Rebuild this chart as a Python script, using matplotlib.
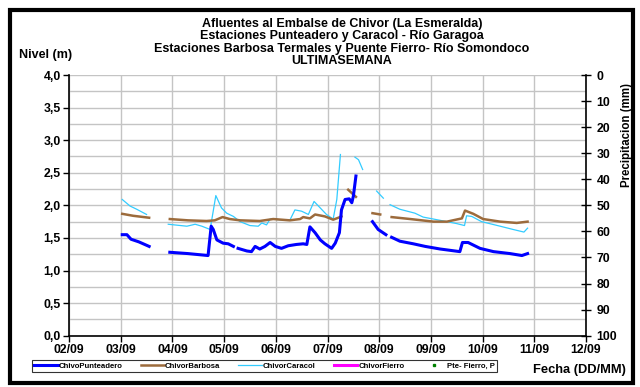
import numpy as np
import matplotlib
matplotlib.use("Agg")
import matplotlib.pyplot as plt
from matplotlib.patches import Rectangle

plt.rcParams['font.family'] = ['Liberation Sans', 'DejaVu Sans']
plt.rcParams['font.weight'] = 'bold'

nan = np.nan

# day of September (fractional), NaN = gap in the record
punteadero_t = [3.03, 3.12, 3.20, 3.35, 3.55, nan, 3.95, 4.30, 4.69, 4.75, 4.79, 4.86, 4.98, 5.08, 5.18, nan,
                5.27, 5.44, 5.53, 5.60, 5.69, 5.79, 5.89, 5.99, 6.11, 6.24, 6.40, 6.53, 6.60, 6.66, 6.76,
                6.86, 6.95, 7.08, 7.15, 7.23, 7.27, 7.34, 7.42, 7.47, 7.50, 7.55, nan, 7.87, 7.98, 8.13, nan,
                8.24, 8.40, 8.66, 8.89, 9.18, 9.56, 9.61, 9.72, 9.95, 10.21, 10.53, 10.76, 10.87]
punteadero = [1.55, 1.55, 1.48, 1.44, 1.37, nan, 1.28, 1.26, 1.23, 1.68, 1.63, 1.47, 1.42, 1.41, 1.37, nan,
              1.34, 1.30, 1.29, 1.37, 1.33, 1.37, 1.43, 1.37, 1.34, 1.38, 1.40, 1.41, 1.40, 1.67, 1.58,
              1.47, 1.41, 1.34, 1.42, 1.58, 1.93, 2.09, 2.10, 2.04, 2.14, 2.45, nan, 1.75, 1.63, 1.55, nan,
              1.51, 1.45, 1.41, 1.37, 1.33, 1.29, 1.43, 1.43, 1.34, 1.29, 1.26, 1.23, 1.26]

barbosa_t = [3.03, 3.24, 3.55, nan, 3.95, 4.30, 4.66, 4.82, 4.97, 5.11, 5.31, 5.69, 5.95, 6.27, 6.47, 6.53,
             6.66, 6.76, 6.95, 7.11, 7.21, 7.27, nan, 7.40, 7.55, nan, 7.87, 8.02, nan, 8.24, 8.60, 9.05,
             9.31, 9.60, 9.66, 9.82, 10.01, 10.34, 10.66, 10.87]
barbosa = [1.87, 1.84, 1.81, nan, 1.79, 1.77, 1.76, 1.77, 1.82, 1.79, 1.77, 1.76, 1.79, 1.77, 1.79, 1.82,
           1.80, 1.86, 1.83, 1.78, 1.81, 1.83, nan, 2.24, 2.13, nan, 1.88, 1.86, nan, 1.82, 1.79, 1.75,
           1.75, 1.80, 1.92, 1.87, 1.79, 1.75, 1.73, 1.75]

caracol_t = [3.03, 3.18, 3.31, 3.50, nan, 3.92, 4.28, 4.44, 4.57, 4.73, 4.84, 4.95, 5.05, 5.18, 5.31, 5.50,
             5.66, 5.73, 5.82, 5.89, 6.08, 6.27, 6.37, 6.50, 6.63, 6.74, 6.86, 6.98, 7.11, 7.18, 7.25, nan,
             7.53, 7.60, 7.68, nan, 7.95, 8.08, nan, 8.21, 8.40, 8.69, 8.85, 9.18, 9.50, 9.65, 9.69, 9.79,
             9.98, 10.34, 10.59, 10.80, 10.87]
caracol = [2.09, 1.99, 1.94, 1.86, nan, 1.71, 1.68, 1.71, 1.68, 1.63, 2.15, 1.96, 1.88, 1.83, 1.75, 1.69,
           1.68, 1.73, 1.70, 1.79, 1.78, 1.77, 1.93, 1.91, 1.86, 2.06, 1.96, 1.86, 1.79, 2.09, 2.78, nan,
           2.74, 2.70, 2.55, nan, 2.22, 2.11, nan, 2.01, 1.94, 1.88, 1.82, 1.77, 1.72, 1.69, 1.84, 1.83,
           1.75, 1.68, 1.63, 1.59, 1.65]

# no data in this week for these two
fierro_t, fierro = [], []
precip_t, precip = [], []

day_ticks = list(range(2, 13))
day_labels = ["%02d/09" % d for d in day_ticks]

fig = plt.figure(figsize=(6.4, 3.87), dpi=100)
ax = fig.add_axes([69/640, 1 - 335.7/387, (586 - 69)/640, (335.7 - 75)/387])

ax.plot(punteadero_t, punteadero, color='#0000FF', lw=2.2, label='ChivoPunteadero', zorder=5)
ax.plot(barbosa_t, barbosa, color='#9C6B3C', lw=1.8, label='ChivorBarbosa', zorder=4)
ax.plot(caracol_t, caracol, color='#33CCFF', lw=0.9, label='ChivorCaracol', zorder=3)
ax.plot(fierro_t, fierro, color='#FF00FF', lw=2.2, label='ChivorFierro')

ax.set_xlim(2, 12)
ax.set_ylim(0, 4)
ax.set_xticks(day_ticks)
ax.set_xticklabels(day_labels)
ax.set_yticks(np.arange(0, 4.01, 0.5))
ax.set_yticklabels([("%.1f" % v).replace('.', ',') for v in np.arange(0, 4.01, 0.5)])
ax.set_yticks(np.arange(0, 4.01, 0.25), minor=True)
ax.grid(True, which='both', color='#c4c4c4', lw=1.0)
ax.set_axisbelow(True)
ax.tick_params(axis='both', which='major', labelsize=8.8, length=4, width=1, direction='out', pad=2)
ax.tick_params(axis='y', which='minor', length=0)
for s in ['left', 'bottom']:
    ax.spines[s].set_linewidth(1.2)
ax.spines['top'].set_visible(False)
ax.spines['right'].set_visible(False)

ax2 = ax.twinx()
ax2.plot(precip_t, precip, 's', color='#008000', ms=2, label='Pte- Fierro, P')
ax2.set_ylim(100, 0)
ax2.set_yticks(range(0, 101, 10))
ax2.tick_params(axis='y', labelsize=8.8, length=7, width=1, direction='inout', pad=4)
ax2.spines['right'].set_linewidth(1.2)
for s in ['top', 'left', 'bottom']:
    ax2.spines[s].set_visible(False)

# titles
title_lines = ["Afluentes al Embalse de Chivor (La Esmeralda)",
               "Estaciones Punteadero y Caracol - Río Garagoa",
               "Estaciones Barbosa Termales y Puente Fierro- Río Somondoco",
               "ULTIMASEMANA"]
for i, line in enumerate(title_lines):
    fig.text(342/640, 1 - (24 + 12.4*i)/387, line, ha='center', va='center', fontsize=9, fontweight='bold')

fig.text(46/640, 1 - 55/387, "Nivel (m)", ha='center', va='center', fontsize=9, fontweight='bold')
fig.text(627/640, 1 - 135/387, "Precipitacion (mm)", ha='center', va='center', rotation=90,
         fontsize=8.3, fontweight='bold')
fig.text(579/640, 1 - 370/387, "Fecha (DD/MM)", ha='center', va='center', fontsize=9.3, fontweight='bold')

h1, l1 = ax.get_legend_handles_labels()
h2, l2 = ax2.get_legend_handles_labels()
leg = fig.legend(h1 + h2, l1 + l2, ncol=5, loc='center', mode='expand',
                 bbox_to_anchor=(28/640, 1 - 373/387, 473/640, 14/387),
                 fontsize=5.6, frameon=True, fancybox=False, handlelength=3.0, handletextpad=0.15,
                 borderpad=0.3, columnspacing=0.8, markerscale=1)
leg.get_frame().set_edgecolor('black')
leg.get_frame().set_linewidth(0.8)

fig.patches.append(Rectangle((10/640, 4/387), 623/640, 373/387, transform=fig.transFigure,
                             fill=False, edgecolor='black', lw=3))

fig.savefig("out.png", dpi=100)
